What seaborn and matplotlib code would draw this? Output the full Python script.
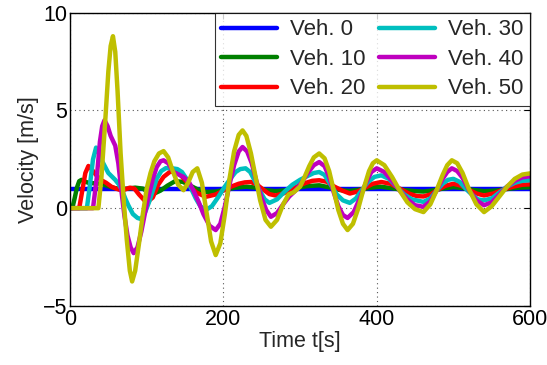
import numpy as np
import pandas as pd
import matplotlib
matplotlib.use("Agg")
import matplotlib.pyplot as plt
import seaborn as sns

# Velocity of vehicles in the platoon
t_veh0 = [0, 600]
v_veh0 = [1.0, 1.0]

t_veh10 = [0, 3, 6, 9, 12, 15, 18, 24, 32, 40, 48, 56, 65, 75, 85, 95, 103, 110, 118, 127,
           137, 147, 157, 167, 177, 190, 203, 216, 230, 243, 256, 268, 282, 296, 310, 325,
           340, 352, 364, 378, 392, 405, 420, 435, 450, 461, 472, 486, 500, 513, 526, 540,
           555, 570, 585, 600]
v_veh10 = [0, 0, 0.5, 1.05, 1.38, 1.45, 1.38, 1.3, 1.27, 1.25, 1.15, 1.05, 0.98, 1.0, 1.05,
           1.0, 0.8, 0.75, 0.9, 1.15, 1.38, 1.35, 1.15, 0.95, 0.83, 0.85, 0.95, 1.05, 1.1,
           1.05, 0.92, 0.87, 0.92, 1.05, 1.13, 1.17, 1.05, 0.93, 0.88, 0.95, 1.05, 1.1, 1.02,
           0.93, 0.87, 0.85, 0.9, 1.0, 1.08, 1.02, 0.93, 0.87, 0.9, 0.98, 1.05, 1.07]

t_veh20 = [0, 12, 16, 20, 24, 28, 34, 40, 47, 54, 60, 68, 78, 84, 90, 97, 102, 108, 115, 122,
           130, 137, 144, 151, 158, 165, 177, 190, 200, 210, 220, 228, 236, 244, 252, 260,
           268, 278, 288, 298, 308, 316, 325, 335, 345, 355, 365, 375, 385, 395, 406, 418,
           430, 442, 452, 461, 470, 480, 490, 500, 510, 520, 530, 540, 552, 565, 578, 590, 600]
v_veh20 = [0, 0, 0.9, 1.8, 2.16, 2.0, 1.7, 1.45, 1.3, 1.1, 1.0, 0.9, 1.05, 1.0, 0.7, 0.4,
           0.35, 0.55, 1.2, 1.6, 1.85, 1.9, 1.7, 1.4, 1.05, 0.8, 0.58, 0.7, 0.9, 1.1, 1.25,
           1.32, 1.34, 1.2, 0.95, 0.72, 0.65, 0.75, 0.95, 1.15, 1.3, 1.4, 1.43, 1.35, 1.1,
           0.9, 0.75, 0.85, 1.05, 1.25, 1.34, 1.25, 1.0, 0.75, 0.62, 0.6, 0.7, 0.95, 1.15,
           1.25, 1.15, 0.95, 0.75, 0.65, 0.75, 0.95, 1.1, 1.2, 1.22]

t_veh30 = [0, 22, 26, 30, 34, 38, 42, 50, 59, 64, 68, 72, 76, 82, 88, 93, 98, 103, 108, 113,
           119, 125, 132, 140, 146, 152, 158, 164, 170, 177, 185, 193, 201, 209, 216, 222,
           229, 235, 241, 248, 254, 260, 270, 280, 290, 300, 310, 318, 325, 332, 340, 348,
           356, 365, 373, 381, 389, 397, 406, 416, 426, 436, 446, 461, 470, 478, 486, 493,
           500, 508, 516, 524, 532, 540, 550, 560, 570, 580, 590, 600]
v_veh30 = [0, 0, 1.2, 2.5, 3.1, 2.8, 2.4, 1.8, 1.45, 1.2, 0.9, 0.5, 0.15, -0.3, -0.5, -0.56,
           -0.2, 0.3, 0.9, 1.5, 1.9, 2.05, 2.05, 2.0, 1.85, 1.5, 1.0, 0.5, 0.1, -0.1, 0.1,
           0.55, 1.05, 1.5, 1.85, 2.0, 2.04, 1.85, 1.4, 0.85, 0.45, 0.27, 0.45, 0.85, 1.2,
           1.45, 1.65, 1.8, 1.85, 1.7, 1.2, 0.7, 0.4, 0.27, 0.5, 0.95, 1.35, 1.6, 1.68, 1.5,
           1.1, 0.7, 0.45, 0.32, 0.5, 0.9, 1.25, 1.45, 1.5, 1.35, 1.0, 0.7, 0.45, 0.4, 0.5,
           0.8, 1.1, 1.3, 1.4, 1.43]

t_veh40 = [0, 30, 35, 39, 42, 45, 49, 53, 59, 63, 67, 71, 75, 79, 83, 88, 93, 98, 103, 108,
           113, 118, 122, 128, 135, 148, 155, 161, 168, 174, 182, 190, 196, 202, 208, 214,
           220, 225, 231, 237, 243, 250, 256, 262, 270, 278, 286, 294, 302, 310, 318, 325,
           332, 338, 344, 350, 356, 362, 370, 378, 386, 393, 400, 410, 420, 430, 440, 450,
           461, 470, 478, 486, 492, 498, 505, 512, 520, 530, 540, 550, 560, 570, 580, 590, 600]
v_veh40 = [0, 0, 1.6, 3.4, 4.2, 4.5, 4.2, 3.7, 3.2, 2.3, 0.9, -0.4, -1.4, -2.0, -2.3, -2.0,
           -1.2, -0.2, 0.7, 1.5, 2.1, 2.4, 2.45, 2.3, 1.85, 1.6, 1.35, 0.9, 0.3, -0.3, -0.9,
           -1.12, -0.8, 0.1, 1.2, 2.2, 2.9, 3.13, 2.9, 2.3, 1.4, 0.5, -0.1, -0.44, -0.25, 0.2,
           0.6, 0.9, 1.3, 1.8, 2.2, 2.36, 2.15, 1.6, 0.8, 0.1, -0.35, -0.5, -0.2, 0.5, 1.3,
           1.85, 2.04, 1.85, 1.4, 0.9, 0.45, 0.15, 0.07, 0.35, 0.9, 1.5, 1.85, 2.04, 1.9,
           1.55, 0.95, 0.4, 0.15, 0.3, 0.7, 1.1, 1.4, 1.58, 1.63]

t_veh50 = [0, 37, 41, 46, 50, 53, 56, 59, 62, 66, 70, 74, 78, 81, 85, 90, 95, 100, 105, 110,
           116, 122, 128, 134, 141, 148, 154, 160, 166, 172, 178, 184, 190, 196, 202, 208,
           214, 220, 225, 230, 236, 242, 248, 255, 262, 270, 278, 285, 292, 300, 306, 312,
           318, 325, 332, 338, 344, 350, 356, 362, 369, 376, 383, 390, 395, 400, 410, 420,
           430, 440, 450, 461, 470, 478, 486, 492, 498, 505, 512, 520, 530, 540, 550, 560,
           570, 580, 590, 600]
v_veh50 = [0, 0, 1.6, 4.5, 7.0, 8.3, 8.8, 8.0, 6.0, 2.8, 0.4, -1.6, -3.2, -3.75, -3.2, -1.8,
           -0.3, 1.0, 1.8, 2.4, 2.8, 2.92, 2.6, 1.9, 1.2, 0.92, 1.3, 1.85, 2.04, 1.3, -0.2,
           -1.7, -2.4, -1.8, -0.3, 1.5, 2.9, 3.75, 3.98, 3.7, 2.8, 1.6, 0.4, -0.6, -0.95,
           -0.6, 0.2, 0.7, 0.82, 1.1, 1.6, 2.15, 2.6, 2.8, 2.55, 1.9, 0.9, -0.1, -0.8, -1.12,
           -0.8, 0.0, 1.0, 1.9, 2.3, 2.45, 2.2, 1.6, 0.9, 0.3, -0.05, -0.2, 0.2, 0.9, 1.7,
           2.2, 2.45, 2.3, 1.8, 1.0, 0.2, -0.2, 0.1, 0.6, 1.1, 1.5, 1.72, 1.78]

labels = ["Veh. 0", "Veh. 10", "Veh. 20", "Veh. 30", "Veh. 40", "Veh. 50"]
colors = ["#0000ff", "#008000", "#ff0000", "#00bfbf", "#bf00bf", "#bfbf00"]

series = [(t_veh0, v_veh0), (t_veh10, v_veh10), (t_veh20, v_veh20),
          (t_veh30, v_veh30), (t_veh40, v_veh40), (t_veh50, v_veh50)]

# long-form table for seaborn
frames = []
for lab, (t, v) in zip(labels, series):
    frames.append(pd.DataFrame({"t": t, "v": v, "veh": lab}))
df = pd.concat(frames, ignore_index=True)

sns.set_theme(style="white")
plt.rcParams['font.family'] = ['Liberation Sans', 'DejaVu Sans']

fig = plt.figure(figsize=(5.47, 3.65), dpi=100)
ax = fig.add_axes([0.128, 0.162, 0.841, 0.803])

sns.lineplot(data=df, x="t", y="v", hue="veh", hue_order=labels, palette=colors,
             estimator=None, sort=False, linewidth=3.2, ax=ax)

ax.set_xlim(0, 600)
ax.set_ylim(-5, 10)
ax.set_xticks([0, 200, 400, 600])
ax.set_yticks([-5, 0, 5, 10])
ax.set_xlabel("Time t[s]", fontsize=15.5, labelpad=1)
ax.set_ylabel("Velocity [m/s]", fontsize=15.5, labelpad=3)
ax.tick_params(direction="in", top=True, right=True, length=4, width=0.8,
               labelsize=15.5, colors="black", pad=2)
for s in ax.spines.values():
    s.set_color("black")
    s.set_linewidth(1.0)
# dotted grid like matlab
ax.grid(True, linestyle=(0, (1, 3)), color="#555555", linewidth=0.8)

# Add a legend
handles, labs = ax.get_legend_handles_labels()
leg = ax.legend(handles, labs, ncol=2, loc="upper right", fontsize=16,
                frameon=True, fancybox=False, borderaxespad=0, handlelength=2.5,
                columnspacing=0.6, labelspacing=0.38, handletextpad=0.6,
                borderpad=0.3)
leg.get_frame().set_edgecolor("black")
leg.get_frame().set_linewidth(0.8)
for h in leg.get_lines():
    h.set_linewidth(3.2)

plt.savefig("out.png", dpi=100)
plt.close()
